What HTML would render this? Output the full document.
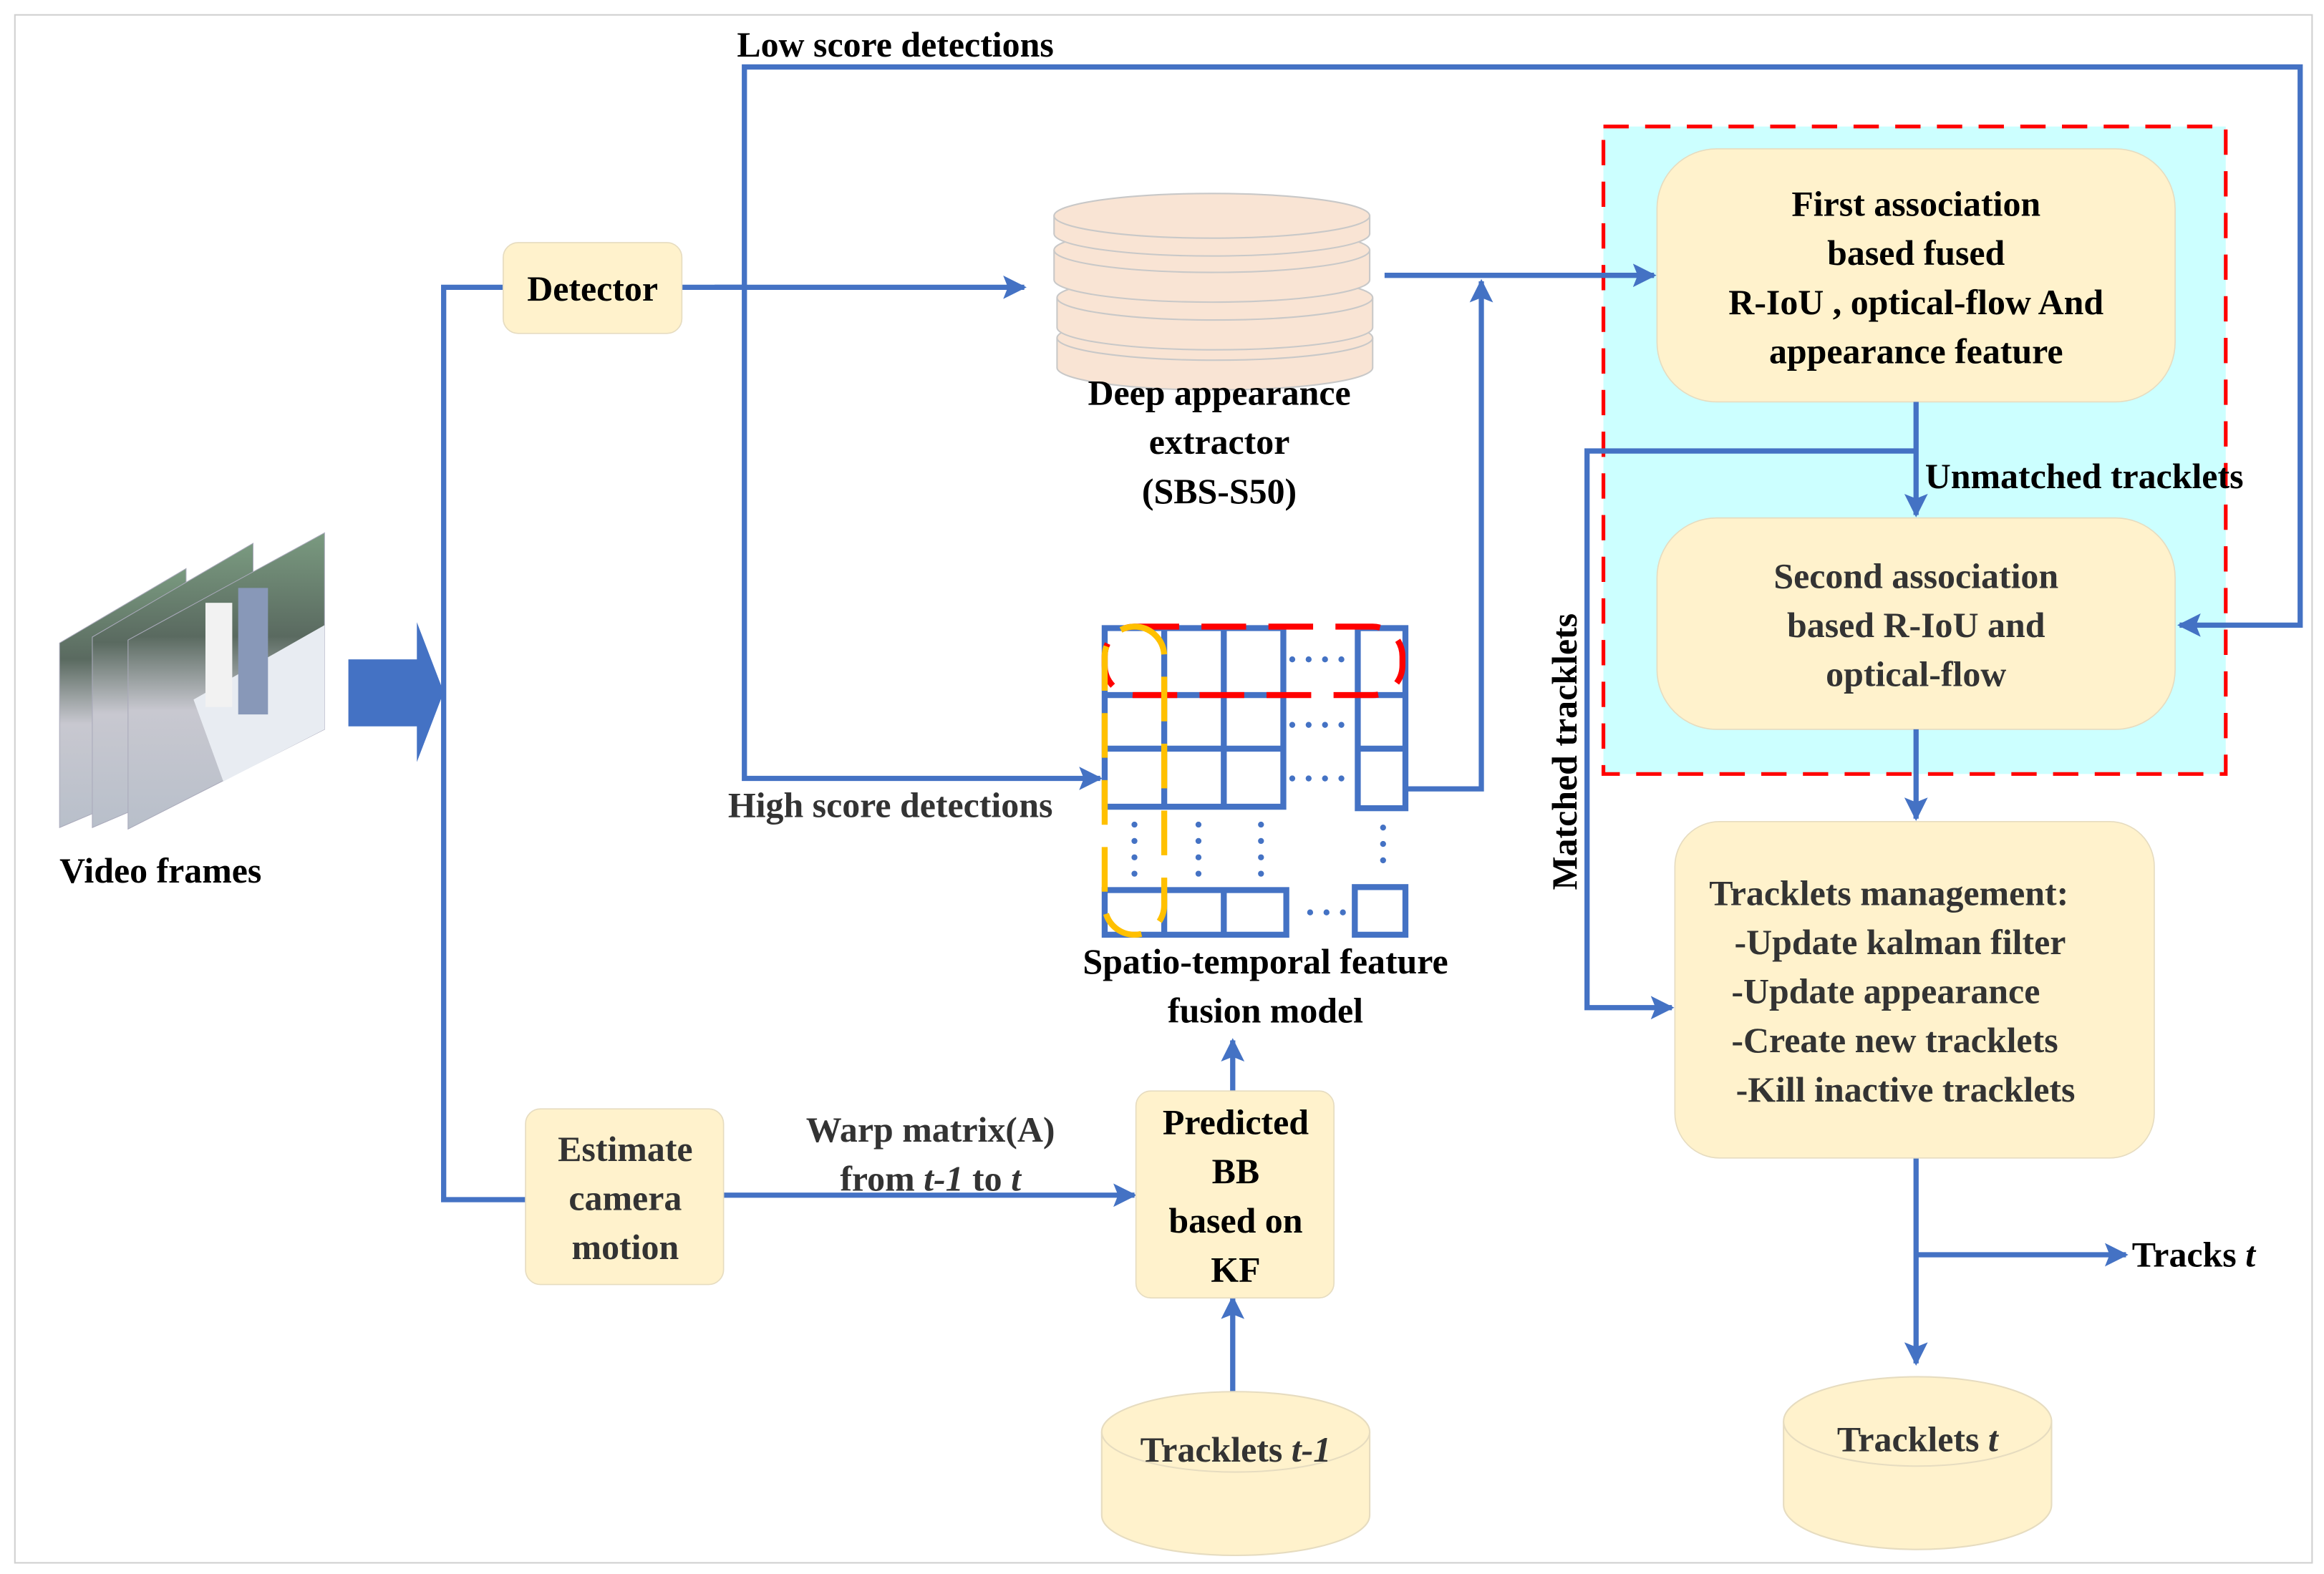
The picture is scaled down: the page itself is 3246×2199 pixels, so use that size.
<!DOCTYPE html>
<html><head><meta charset="utf-8"><style>
html,body{margin:0;padding:0;background:#fff;}
svg{display:block;}
text{font-family:"Liberation Serif",serif;font-weight:bold;}
</style></head><body>
<svg width="3246" height="2199" viewBox="0 0 1561 1057.5" xmlns="http://www.w3.org/2000/svg">
<defs>
<marker id="ah" viewBox="0 0 10 10" refX="9" refY="5" markerWidth="4.5" markerHeight="4.5" orient="auto" markerUnits="strokeWidth">
<path d="M0,0 L10,5 L0,10 L2,5 z" fill="#4472c4"/></marker>
<linearGradient id="vf" x1="0" y1="0" x2="0" y2="1">
<stop offset="0" stop-color="#7a9a80"/><stop offset="0.35" stop-color="#5a6a60"/><stop offset="0.6" stop-color="#c8c8d0"/><stop offset="1" stop-color="#b8bfca"/></linearGradient>
</defs>
<rect x="10" y="10" width="1543" height="1040" fill="none" stroke="#d0d0d0" stroke-width="1"/>

<!-- video frames -->
<polygon points="40,432 125,382 125,520 40,556" fill="url(#vf)" stroke="#aab" stroke-width="0.5"/>
<polygon points="62,428 170,365 170,510 62,556" fill="url(#vf)" stroke="#aab" stroke-width="0.5"/>
<polygon points="86,430 218,358 218,490 86,557" fill="url(#vf)" stroke="#aab" stroke-width="0.5"/>
<polygon points="130,470 218,420 218,490 150,525" fill="#e8ecf2"/>
<rect x="160" y="395" width="20" height="85" fill="#8898b8"/>
<rect x="138" y="405" width="18" height="70" fill="#f2f2f2"/>
<text x="40" y="593" font-size="24" fill="#000">Video frames</text>

<!-- big arrow -->
<rect x="234" y="443" width="48" height="45" fill="#4472c4"/>
<polygon points="280,418 298,465 280,512" fill="#4472c4"/>

<!-- association region (drawn first so connectors are on top) -->
<rect x="1077" y="85" width="418" height="435" fill="#ccffff" stroke="#ff0000" stroke-width="2.5" stroke-dasharray="17 11"/>
<rect x="1113" y="100" width="348" height="170" rx="40" fill="#fff2cc" stroke="#e6dcc0" stroke-width="0.8"/>
<text x="1287" y="145" font-size="24" text-anchor="middle" fill="#000">First association</text>
<text x="1287" y="178" font-size="24" text-anchor="middle" fill="#000">based fused</text>
<text x="1287" y="211" font-size="24" text-anchor="middle" fill="#000">R-IoU , optical-flow And</text>
<text x="1287" y="244" font-size="24" text-anchor="middle" fill="#000">appearance feature</text>
<rect x="1113" y="348" width="348" height="142" rx="40" fill="#fff2cc" stroke="#e6dcc0" stroke-width="0.8"/>
<text x="1287" y="395" font-size="24" text-anchor="middle" fill="#333">Second association</text>
<text x="1287" y="428" font-size="24" text-anchor="middle" fill="#333">based R-IoU and</text>
<text x="1287" y="461" font-size="24" text-anchor="middle" fill="#333">optical-flow</text>

<g stroke="#4472c4" stroke-width="3.5" fill="none">
<polyline points="338,193 298,193 298,806 353,806"/>
<line x1="458" y1="193" x2="688" y2="193" marker-end="url(#ah)"/>
<polyline points="480,193 500,193 500,45 1545,45 1545,420 1464,420" marker-end="url(#ah)"/>
<polyline points="500,193 500,523 739,523" marker-end="url(#ah)"/>
<line x1="930" y1="185" x2="1111" y2="185" marker-end="url(#ah)"/>
<polyline points="945,530 995,530 995,189" marker-end="url(#ah)"/>
<line x1="486" y1="803" x2="762" y2="803" marker-end="url(#ah)"/>
<line x1="828" y1="733" x2="828" y2="699" marker-end="url(#ah)"/>
<line x1="828" y1="935" x2="828" y2="872" marker-end="url(#ah)"/>
<line x1="1287" y1="270" x2="1287" y2="346" marker-end="url(#ah)"/>
<polyline points="1287,303 1066,303 1066,677 1123,677" marker-end="url(#ah)"/>
<line x1="1287" y1="490" x2="1287" y2="550" marker-end="url(#ah)"/>
<line x1="1287" y1="778" x2="1287" y2="916" marker-end="url(#ah)"/>
<line x1="1287" y1="843" x2="1428" y2="843" marker-end="url(#ah)"/>
</g>

<!-- disks -->
<g fill="#f9e4d4" stroke="#c8c8c8" stroke-width="1">
<path d="M710,227 v20 a106,15 0 0 0 212,0 v-20"/><ellipse cx="816" cy="227" rx="106" ry="15"/>
<path d="M710,200 v20 a106,15 0 0 0 212,0 v-20"/><ellipse cx="816" cy="200" rx="106" ry="15"/>
<path d="M708,168 v20 a106,15 0 0 0 212,0 v-20"/><ellipse cx="814" cy="168" rx="106" ry="15"/>
<path d="M708,145 v12 a106,15 0 0 0 212,0 v-12"/><ellipse cx="814" cy="145" rx="106" ry="15"/>
</g>
<text x="819" y="272" font-size="24" text-anchor="middle" fill="#000">Deep appearance</text>
<text x="819" y="305" font-size="24" text-anchor="middle" fill="#000">extractor</text>
<text x="819" y="338" font-size="24" text-anchor="middle" fill="#000">(SBS-S50)</text>

<text x="495" y="38" font-size="24" fill="#000">Low score detections</text>
<text x="489" y="549" font-size="24" fill="#333">High score detections</text>

<!-- detector -->
<rect x="338" y="163" width="120" height="61" rx="10" fill="#fff2cc" stroke="#e6dcc0" stroke-width="0.8"/>
<text x="398" y="202" font-size="24" text-anchor="middle" fill="#000">Detector</text>

<!-- grid -->
<g stroke="#4472c4" stroke-width="4" fill="none">
<polyline points="862,422 742,422 742,542 862,542 862,422"/>
<line x1="742" y1="467" x2="862" y2="467"/><line x1="742" y1="503" x2="862" y2="503"/>
<line x1="782" y1="422" x2="782" y2="542"/><line x1="822" y1="422" x2="822" y2="542"/>
<rect x="912" y="422" width="32" height="121"/>
<line x1="912" y1="467" x2="944" y2="467"/><line x1="912" y1="503" x2="944" y2="503"/>
<rect x="742" y="598" width="122" height="30"/>
<line x1="782" y1="598" x2="782" y2="628"/><line x1="822" y1="598" x2="822" y2="628"/>
<rect x="910" y="596" width="34" height="32"/>
</g>
<g stroke="#4472c4" stroke-width="4" stroke-linecap="round" stroke-dasharray="0 11">
<line x1="868" y1="443" x2="910" y2="443"/><line x1="868" y1="487" x2="912" y2="487"/><line x1="868" y1="523" x2="912" y2="523"/>
<line x1="762" y1="554" x2="762" y2="590"/><line x1="805" y1="554" x2="805" y2="590"/><line x1="847" y1="554" x2="847" y2="590"/><line x1="929" y1="556" x2="929" y2="580"/>
<line x1="880" y1="613" x2="905" y2="613"/>
</g>
<rect x="742" y="421" width="200" height="46" rx="20" fill="none" stroke="#ff0000" stroke-width="4" stroke-dasharray="30 15"/>
<rect x="742" y="421" width="40" height="207" rx="20" fill="none" stroke="#ffc000" stroke-width="4" stroke-dasharray="30 15"/>
<text x="850" y="654" font-size="24" text-anchor="middle" fill="#000">Spatio-temporal feature</text>
<text x="850" y="687" font-size="24" text-anchor="middle" fill="#000">fusion model</text>

<!-- estimate camera motion -->
<rect x="353" y="745" width="133" height="118" rx="10" fill="#fff2cc" stroke="#e6dcc0" stroke-width="0.8"/>
<text x="420" y="780" font-size="24" text-anchor="middle" fill="#333">Estimate</text>
<text x="420" y="813" font-size="24" text-anchor="middle" fill="#333">camera</text>
<text x="420" y="846" font-size="24" text-anchor="middle" fill="#333">motion</text>
<text x="625" y="767" font-size="24" text-anchor="middle" fill="#333">Warp matrix(A)</text>
<text x="625" y="800" font-size="24" text-anchor="middle" fill="#333">from <tspan font-style="italic">t-1</tspan> to <tspan font-style="italic">t</tspan></text>

<!-- predicted BB -->
<rect x="763" y="733" width="133" height="139" rx="10" fill="#fff2cc" stroke="#e6dcc0" stroke-width="0.8"/>
<text x="830" y="762" font-size="24" text-anchor="middle" fill="#000">Predicted</text>
<text x="830" y="795" font-size="24" text-anchor="middle" fill="#000">BB</text>
<text x="830" y="828" font-size="24" text-anchor="middle" fill="#000">based on</text>
<text x="830" y="861" font-size="24" text-anchor="middle" fill="#000">KF</text>

<!-- tracklets t-1 -->
<path d="M740,962 v56 a90,27 0 0 0 180,0 v-56" fill="#fff2cc" stroke="#e6dcc0"/>
<ellipse cx="830" cy="962" rx="90" ry="27" fill="#fff2cc" stroke="#e6dcc0"/>
<text x="830" y="982" font-size="24" text-anchor="middle" fill="#333">Tracklets <tspan font-style="italic">t-1</tspan></text>

<text x="1293" y="328" font-size="24" fill="#000">Unmatched tracklets</text>
<text transform="translate(1059,598) rotate(-90)" font-size="24" fill="#000">Matched tracklets</text>

<!-- management -->
<rect x="1125" y="552" width="322" height="226" rx="30" fill="#fff2cc" stroke="#e6dcc0" stroke-width="0.8"/>
<g font-size="24" fill="#333">
<text x="1148" y="608">Tracklets management:</text>
<text x="1165" y="641">-Update kalman filter</text>
<text x="1163" y="674">-Update  appearance</text>
<text x="1163" y="707">-Create new tracklets</text>
<text x="1166" y="740">-Kill inactive tracklets</text>
</g>
<text x="1432" y="851" font-size="24" fill="#000">Tracks <tspan font-style="italic">t</tspan></text>

<!-- tracklets t -->
<path d="M1198,955 v56 a90,30 0 0 0 180,0 v-56" fill="#fff2cc" stroke="#e6dcc0"/>
<ellipse cx="1288" cy="955" rx="90" ry="30" fill="#fff2cc" stroke="#e6dcc0"/>
<text x="1288" y="975" font-size="24" text-anchor="middle" fill="#333">Tracklets <tspan font-style="italic">t</tspan></text>
</svg>
</body></html>
